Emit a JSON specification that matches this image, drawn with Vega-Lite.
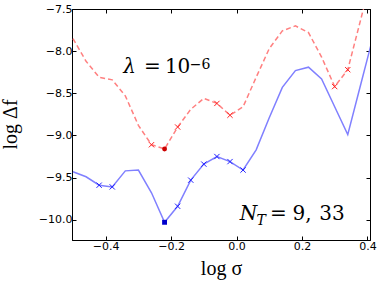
{
  "$schema": "https://vega.github.io/schema/vega-lite/v6.json",
  "width": 298,
  "height": 231,
  "autosize": {"type": "none"},
  "padding": {"left": 72, "top": 9, "right": 12, "bottom": 44},
  "background": "white",
  "config": {
    "view": {"stroke": "black", "strokeWidth": 1},
    "axis": {
      "grid": false,
      "domainColor": "black",
      "tickColor": "black",
      "tickSize": -4,
      "labelColor": "black",
      "labelFont": "DejaVu Sans",
      "labelFontSize": 11,
      "titleColor": "black",
      "titleFont": "Liberation Serif",
      "titleFontSize": 20,
      "titleFontWeight": "normal",
      "labelPadding": 4
    },
    "text": {"font": "DejaVu Serif", "color": "black", "baseline": "alphabetic"}
  },
  "datasets": {
    "one": [{}],
    "curves": [
      {"x": -0.50, "y": -7.85, "s": "r"}, {"x": -0.46, "y": -8.12, "s": "r"}, {"x": -0.42, "y": -8.31, "s": "r"},
      {"x": -0.38, "y": -8.34, "s": "r"}, {"x": -0.34, "y": -8.53, "s": "r"}, {"x": -0.30, "y": -8.88, "s": "r"},
      {"x": -0.26, "y": -9.11, "s": "r"}, {"x": -0.22, "y": -9.16, "s": "r"}, {"x": -0.18, "y": -8.90, "s": "r"},
      {"x": -0.14, "y": -8.69, "s": "r"}, {"x": -0.10, "y": -8.56, "s": "r"}, {"x": -0.06, "y": -8.62, "s": "r"},
      {"x": -0.02, "y": -8.76, "s": "r"}, {"x": 0.02, "y": -8.66, "s": "r"}, {"x": 0.06, "y": -8.31, "s": "r"},
      {"x": 0.10, "y": -7.97, "s": "r"}, {"x": 0.14, "y": -7.76, "s": "r"}, {"x": 0.18, "y": -7.70, "s": "r"},
      {"x": 0.22, "y": -7.78, "s": "r"}, {"x": 0.26, "y": -8.07, "s": "r"}, {"x": 0.30, "y": -8.42, "s": "r"},
      {"x": 0.34, "y": -8.22, "s": "r"}, {"x": 0.38, "y": -7.62, "s": "r"}, {"x": 0.42, "y": -7.00, "s": "r"},
      {"x": -0.50, "y": -9.43, "s": "b"}, {"x": -0.46, "y": -9.49, "s": "b"}, {"x": -0.42, "y": -9.59, "s": "b"},
      {"x": -0.38, "y": -9.61, "s": "b"}, {"x": -0.34, "y": -9.42, "s": "b"}, {"x": -0.30, "y": -9.41, "s": "b"},
      {"x": -0.26, "y": -9.68, "s": "b"}, {"x": -0.22, "y": -10.03, "s": "b"}, {"x": -0.18, "y": -9.84, "s": "b"},
      {"x": -0.14, "y": -9.53, "s": "b"}, {"x": -0.10, "y": -9.34, "s": "b"}, {"x": -0.06, "y": -9.25, "s": "b"},
      {"x": -0.02, "y": -9.31, "s": "b"}, {"x": 0.02, "y": -9.41, "s": "b"}, {"x": 0.06, "y": -9.17, "s": "b"},
      {"x": 0.10, "y": -8.79, "s": "b"}, {"x": 0.14, "y": -8.43, "s": "b"}, {"x": 0.18, "y": -8.23, "s": "b"},
      {"x": 0.22, "y": -8.19, "s": "b"}, {"x": 0.26, "y": -8.33, "s": "b"}, {"x": 0.30, "y": -8.66, "s": "b"},
      {"x": 0.34, "y": -8.99, "s": "b"}, {"x": 0.38, "y": -8.39, "s": "b"}, {"x": 0.42, "y": -7.79, "s": "b"}
    ],
    "markers": [
      {"x": -0.26, "y": -9.11, "s": "r", "k": "x"}, {"x": -0.18, "y": -8.90, "s": "r", "k": "x"},
      {"x": -0.06, "y": -8.62, "s": "r", "k": "x"}, {"x": -0.02, "y": -8.76, "s": "r", "k": "x"},
      {"x": 0.30, "y": -8.42, "s": "r", "k": "x"}, {"x": 0.34, "y": -8.22, "s": "r", "k": "x"},
      {"x": -0.42, "y": -9.59, "s": "b", "k": "x"}, {"x": -0.38, "y": -9.61, "s": "b", "k": "x"},
      {"x": -0.18, "y": -9.84, "s": "b", "k": "x"}, {"x": -0.14, "y": -9.53, "s": "b", "k": "x"},
      {"x": -0.10, "y": -9.34, "s": "b", "k": "x"}, {"x": -0.06, "y": -9.25, "s": "b", "k": "x"},
      {"x": -0.02, "y": -9.31, "s": "b", "k": "x"}, {"x": 0.02, "y": -9.41, "s": "b", "k": "x"},
      {"x": -0.22, "y": -9.16, "s": "r", "k": "dot"}, {"x": -0.22, "y": -10.03, "s": "b", "k": "sq"}
    ]
  },
  "layer": [
    {
      "layer": [
        {
          "data": {"name": "curves"},
          "transform": [{"filter": "datum.s == 'r'"}],
          "mark": {"type": "line", "clip": true, "color": "#ff8080", "strokeWidth": 1.5, "strokeDash": [5, 3]},
          "encoding": {
            "x": {"field": "x", "type": "quantitative", "scale": {"domain": [-0.503, 0.408], "nice": false, "zero": false},
              "axis": {"orient": "bottom", "values": [-0.4, -0.2, 0, 0.2, 0.4], "format": ".1f", "title": "log σ", "titleY": 34, "titleBaseline": "alphabetic"}},
            "y": {"field": "y", "type": "quantitative", "scale": {"domain": [-10.24, -7.5], "nice": false, "zero": false},
              "axis": {"orient": "left", "values": [-10, -9.5, -9, -8.5, -8, -7.5], "format": ".1f", "title": "log Δf", "titleX": -56, "titleY": 115, "titleBaseline": "alphabetic", "titleAngle": 270, "titleAlign": "center"}}
          }
        },
        {
          "data": {"name": "curves"},
          "transform": [{"filter": "datum.s == 'b'"}],
          "mark": {"type": "line", "clip": true, "color": "#8080ff", "strokeWidth": 1.5},
          "encoding": {
            "x": {"field": "x", "type": "quantitative", "scale": {"domain": [-0.503, 0.408], "nice": false, "zero": false}},
            "y": {"field": "y", "type": "quantitative", "scale": {"domain": [-10.24, -7.5], "nice": false, "zero": false}}
          }
        },
        {
          "data": {"name": "markers"},
          "transform": [{"filter": "datum.k == 'x'"}],
          "mark": {"type": "point", "shape": "M-1,-1L1,1M-1,1L1,-1", "filled": false, "size": 28, "strokeWidth": 1, "opacity": 1},
          "encoding": {
            "x": {"field": "x", "type": "quantitative", "scale": {"domain": [-0.503, 0.408], "nice": false, "zero": false}},
            "y": {"field": "y", "type": "quantitative", "scale": {"domain": [-10.24, -7.5], "nice": false, "zero": false}},
            "color": {"field": "s", "type": "nominal", "scale": {"domain": ["r", "b"], "range": ["#ff2020", "#2020ff"]}, "legend": null}
          }
        },
        {
          "data": {"name": "markers"},
          "transform": [{"filter": "datum.k == 'dot'"}],
          "mark": {"type": "point", "shape": "circle", "filled": true, "size": 24, "color": "#cc0000", "opacity": 1},
          "encoding": {
            "x": {"field": "x", "type": "quantitative", "scale": {"domain": [-0.503, 0.408], "nice": false, "zero": false}},
            "y": {"field": "y", "type": "quantitative", "scale": {"domain": [-10.24, -7.5], "nice": false, "zero": false}}
          }
        },
        {
          "data": {"name": "markers"},
          "transform": [{"filter": "datum.k == 'sq'"}],
          "mark": {"type": "point", "shape": "square", "filled": true, "size": 24, "color": "#0000cc", "opacity": 1},
          "encoding": {
            "x": {"field": "x", "type": "quantitative", "scale": {"domain": [-0.503, 0.408], "nice": false, "zero": false}},
            "y": {"field": "y", "type": "quantitative", "scale": {"domain": [-10.24, -7.5], "nice": false, "zero": false}}
          }
        },
        {
          "data": {"name": "one"},
          "mark": {"type": "text", "text": "λ", "font": "DejaVu Serif", "fontStyle": "italic", "fontSize": 20, "align": "left", "baseline": "alphabetic"},
          "encoding": {
            "x": {"datum": -0.346, "type": "quantitative", "scale": {"domain": [-0.503, 0.408], "nice": false, "zero": false}},
            "y": {"datum": -8.257, "type": "quantitative", "scale": {"domain": [-10.24, -7.5], "nice": false, "zero": false}}
          }
        },
        {
          "data": {"name": "one"},
          "mark": {"type": "text", "text": "=", "font": "DejaVu Serif", "fontSize": 20, "align": "center", "baseline": "alphabetic"},
          "encoding": {
            "x": {"datum": -0.257, "type": "quantitative", "scale": {"domain": [-0.503, 0.408], "nice": false, "zero": false}},
            "y": {"datum": -8.257, "type": "quantitative", "scale": {"domain": [-10.24, -7.5], "nice": false, "zero": false}}
          }
        },
        {
          "data": {"name": "one"},
          "mark": {"type": "text", "text": "10", "font": "DejaVu Serif", "fontSize": 20, "align": "left", "baseline": "alphabetic"},
          "encoding": {
            "x": {"datum": -0.219, "type": "quantitative", "scale": {"domain": [-0.503, 0.408], "nice": false, "zero": false}},
            "y": {"datum": -8.257, "type": "quantitative", "scale": {"domain": [-10.24, -7.5], "nice": false, "zero": false}}
          }
        },
        {
          "data": {"name": "one"},
          "mark": {"type": "text", "text": "−6", "font": "DejaVu Serif", "fontSize": 14, "align": "left", "baseline": "alphabetic"},
          "encoding": {
            "x": {"datum": -0.143, "type": "quantitative", "scale": {"domain": [-0.503, 0.408], "nice": false, "zero": false}},
            "y": {"datum": -8.206, "type": "quantitative", "scale": {"domain": [-10.24, -7.5], "nice": false, "zero": false}}
          }
        },
        {
          "data": {"name": "one"},
          "mark": {"type": "text", "text": "N", "font": "DejaVu Serif", "fontStyle": "italic", "fontSize": 20, "align": "left", "baseline": "alphabetic"},
          "encoding": {
            "x": {"datum": 0.0095, "type": "quantitative", "scale": {"domain": [-0.503, 0.408], "nice": false, "zero": false}},
            "y": {"datum": -10.006, "type": "quantitative", "scale": {"domain": [-10.24, -7.5], "nice": false, "zero": false}}
          }
        },
        {
          "data": {"name": "one"},
          "mark": {"type": "text", "text": "T", "font": "DejaVu Serif", "fontStyle": "italic", "fontSize": 14, "align": "left", "baseline": "alphabetic"},
          "encoding": {
            "x": {"datum": 0.0613, "type": "quantitative", "scale": {"domain": [-0.503, 0.408], "nice": false, "zero": false}},
            "y": {"datum": -10.06, "type": "quantitative", "scale": {"domain": [-10.24, -7.5], "nice": false, "zero": false}}
          }
        },
        {
          "data": {"name": "one"},
          "mark": {"type": "text", "text": "=", "font": "DejaVu Serif", "fontSize": 20, "align": "center", "baseline": "alphabetic"},
          "encoding": {
            "x": {"datum": 0.128, "type": "quantitative", "scale": {"domain": [-0.503, 0.408], "nice": false, "zero": false}},
            "y": {"datum": -10.006, "type": "quantitative", "scale": {"domain": [-10.24, -7.5], "nice": false, "zero": false}}
          }
        },
        {
          "data": {"name": "one"},
          "mark": {"type": "text", "text": "9,", "font": "DejaVu Serif", "fontSize": 20, "align": "left", "baseline": "alphabetic"},
          "encoding": {
            "x": {"datum": 0.171, "type": "quantitative", "scale": {"domain": [-0.503, 0.408], "nice": false, "zero": false}},
            "y": {"datum": -10.006, "type": "quantitative", "scale": {"domain": [-10.24, -7.5], "nice": false, "zero": false}}
          }
        },
        {
          "data": {"name": "one"},
          "mark": {"type": "text", "text": "33", "font": "DejaVu Serif", "fontSize": 20, "align": "left", "baseline": "alphabetic"},
          "encoding": {
            "x": {"datum": 0.253, "type": "quantitative", "scale": {"domain": [-0.503, 0.408], "nice": false, "zero": false}},
            "y": {"datum": -10.006, "type": "quantitative", "scale": {"domain": [-10.24, -7.5], "nice": false, "zero": false}}
          }
        }
      ]
    },
    {
      "data": {"name": "curves"},
      "mark": {"type": "line", "opacity": 0, "clip": true},
      "encoding": {
        "x": {"field": "x", "type": "quantitative", "scale": {"domain": [-0.503, 0.408], "nice": false, "zero": false},
          "axis": {"orient": "top", "values": [-0.4, -0.2, 0, 0.2, 0.4], "labels": false, "title": null}},
        "y": {"field": "y", "type": "quantitative", "scale": {"domain": [-10.24, -7.5], "nice": false, "zero": false},
          "axis": {"orient": "right", "values": [-10, -9.5, -9, -8.5, -8, -7.5], "labels": false, "title": null}},
        "detail": {"field": "s", "type": "nominal"}
      }
    }
  ],
  "resolve": {"scale": {"x": "independent", "y": "independent"}, "axis": {"x": "independent", "y": "independent"}}
}
